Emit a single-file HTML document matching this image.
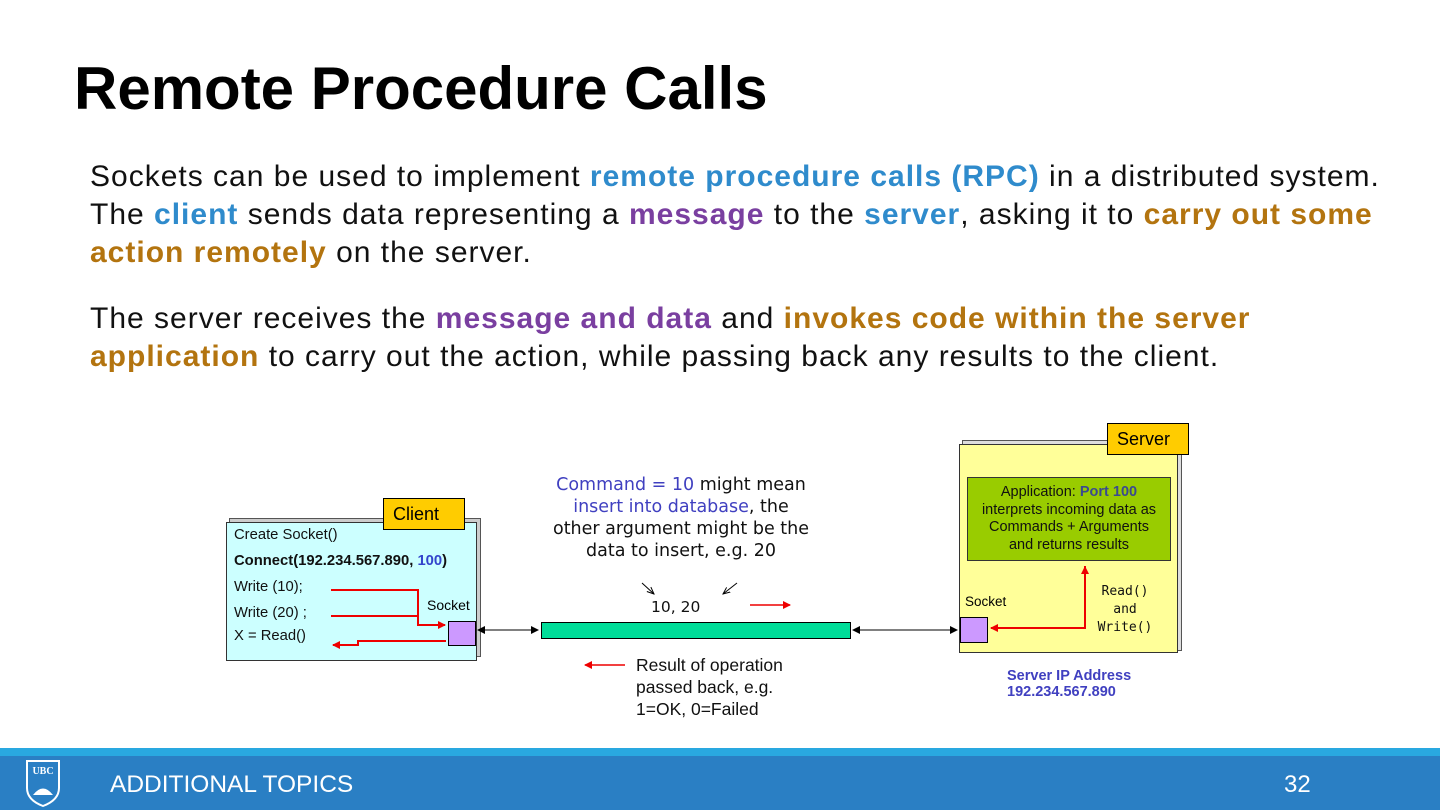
<!DOCTYPE html>
<html><head><meta charset="utf-8"><style>
body{margin:0;width:1440px;height:810px;position:relative;overflow:hidden;background:#fff;font-family:"Liberation Sans",sans-serif;}
.a{position:absolute;white-space:nowrap;}
.b{color:#2f8bcc;font-weight:bold}.p{color:#7a3fa0;font-weight:bold}.o{color:#b3740f;font-weight:bold}
.body{font-size:30px;color:#111;letter-spacing:1px;line-height:38px}
.s{font-size:14.8px;color:#111}
</style></head><body>
<div class="a" style="left:74px;top:54px;font-size:60px;font-weight:bold;letter-spacing:0px;color:#000">Remote Procedure Calls</div>
<div class="a body" style="left:90px;top:158px">Sockets can be used to implement <span class="b">remote procedure calls (RPC)</span> in a distributed system.<br>The <span class="b">client</span> sends data representing a <span class="p">message</span> to the <span class="b">server</span>, asking it to <span class="o">carry out some</span><br><span class="o">action remotely</span> on the server.</div>
<div class="a body" style="left:90px;top:300px">The server receives the <span class="p">message and data</span> and <span class="o">invokes code within the server</span><br><span class="o">application</span> to carry out the action, while passing back any results to the client.</div>

<svg class="a" style="left:0;top:0" width="1440" height="810">
<defs>
<marker id="r" markerWidth="8" markerHeight="8" refX="7" refY="4" orient="auto" markerUnits="userSpaceOnUse"><path d="M0,0L8,4L0,8z" fill="#e00"/></marker>
<marker id="k" markerWidth="8" markerHeight="8" refX="7" refY="4" orient="auto" markerUnits="userSpaceOnUse"><path d="M0,0L8,4L0,8z" fill="#000"/></marker>
<marker id="k2" markerWidth="8" markerHeight="8" refX="7" refY="4" orient="auto" markerUnits="userSpaceOnUse"><path d="M0,1L7,4L0,7" fill="none" stroke="#000"/></marker>
</defs>
<rect x="229.5" y="518.5" width="251" height="138" fill="#ccc" stroke="#555"/>
<rect x="226.5" y="522.5" width="250" height="138" fill="#ccffff" stroke="#333"/>
<rect x="383.5" y="498.5" width="81" height="31" fill="#ffcc00" stroke="#000"/>
<rect x="448.5" y="621.5" width="27" height="24" fill="#cc99ff" stroke="#000"/>
<path d="M331,590H418V625H445" fill="none" stroke="#e00" stroke-width="2" marker-end="url(#r)"/>
<path d="M331,616H418" fill="none" stroke="#e00" stroke-width="2"/>
<path d="M446,641H358V645H333" fill="none" stroke="#e00" stroke-width="2" marker-end="url(#r)"/>
<line x1="486" y1="630" x2="538" y2="630" stroke="#000" marker-end="url(#k)"/>
<line x1="530" y1="630" x2="478" y2="630" stroke="#000" marker-end="url(#k)"/>
<rect x="541.5" y="622.5" width="309" height="16" fill="#00dd99" stroke="#000"/>
<line x1="860" y1="630" x2="957" y2="630" stroke="#000" marker-end="url(#k)"/>
<line x1="950" y1="630" x2="853" y2="630" stroke="#000" marker-end="url(#k)"/>
<rect x="962.5" y="440.5" width="219" height="210" fill="#ddd" stroke="#555"/>
<rect x="959.5" y="444.5" width="218" height="208" fill="#ffff99" stroke="#333"/>
<rect x="1107.5" y="423.5" width="81" height="31" fill="#ffcc00" stroke="#000"/>
<rect x="967.5" y="477.5" width="203" height="83" fill="#99cc00" stroke="#333"/>
<rect x="960.5" y="617.5" width="27" height="25" fill="#cc99ff" stroke="#000"/>
<path d="M1085,566V628H991" fill="none" stroke="#e00" stroke-width="2" marker-end="url(#r)"/>
<path d="M1085,580V567" fill="none" stroke="#e00" stroke-width="2" marker-end="url(#r)"/>
<line x1="642" y1="583" x2="654" y2="594" stroke="#000" marker-end="url(#k2)"/>
<line x1="737" y1="583" x2="723" y2="594" stroke="#000" marker-end="url(#k2)"/>
<line x1="750" y1="605" x2="790" y2="605" stroke="#e00" stroke-width="1.5" marker-end="url(#r)"/>
<line x1="625" y1="665" x2="585" y2="665" stroke="#e00" stroke-width="1.5" marker-end="url(#r)"/>
<rect x="0" y="748" width="1440" height="8" fill="#29a8e0"/>
<rect x="0" y="756" width="1440" height="54" fill="#2a7fc4"/>
<path d="M27,761H59V788Q59,800 43,806Q27,800 27,788Z" fill="none" stroke="#fff" stroke-width="2"/>
<text x="43" y="774" fill="#fff" font-size="10" font-weight="bold" text-anchor="middle" font-family="Liberation Serif">UBC</text>
<path d="M33,795Q43,782 53,795" fill="#fff"/>
</svg>

<div class="a" style="left:393px;top:504px;font-size:18px">Client</div>
<div class="a" style="left:1117px;top:429px;font-size:18px">Server</div>
<div class="a s" style="left:234px;top:527px">Create Socket()</div>
<div class="a s" style="left:234px;top:553px;font-weight:bold">Connect(192.234.567.890, <span style="color:#3344cc">100</span>)</div>
<div class="a s" style="left:234px;top:579px">Write (10);</div>
<div class="a s" style="left:234px;top:605px">Write (20) ;</div>
<div class="a s" style="left:234px;top:628px">X = Read()</div>
<div class="a" style="left:427px;top:597px;font-size:14px">Socket</div>
<div class="a" style="left:965px;top:594px;font-size:13.5px">Socket</div>
<div class="a" style="left:967px;top:484px;width:204px;text-align:center;font-size:14.5px;line-height:17.5px;color:#111;white-space:normal">Application: <b style="color:#3a4a90">Port 100</b><br>interprets incoming data as<br>Commands + Arguments<br>and returns results</div>
<div class="a" style="left:1085px;top:583px;width:80px;text-align:center;font-family:'DejaVu Sans Mono',monospace;font-size:13px;line-height:18px;color:#111">Read()<br>and<br>Write()</div>
<div class="a" style="left:1007px;top:668px;font-size:14.5px;font-weight:bold;color:#4040c0;line-height:16px">Server IP Address<br>192.234.567.890</div>
<div class="a" style="left:511px;top:474px;width:340px;text-align:center;font-family:'DejaVu Sans',sans-serif;font-size:17.5px;line-height:22px;color:#111"><span style="color:#4040c0">Command = 10</span> might mean<br><span style="color:#4040c0">insert into database</span>, the<br>other argument might be the<br>data to insert, e.g. 20</div>
<div class="a" style="left:651px;top:598px;font-family:'DejaVu Sans',sans-serif;font-size:15.5px;color:#111">10, 20</div>
<div class="a" style="left:636px;top:654px;font-size:17.5px;line-height:22px;color:#111">Result of operation<br>passed back, e.g.<br>1=OK, 0=Failed</div>
<div class="a" style="left:110px;top:771px;font-size:24.5px;color:#fff">ADDITIONAL TOPICS</div>
<div class="a" style="left:1284px;top:771px;font-size:24px;color:#fff">32</div>
</body></html>
